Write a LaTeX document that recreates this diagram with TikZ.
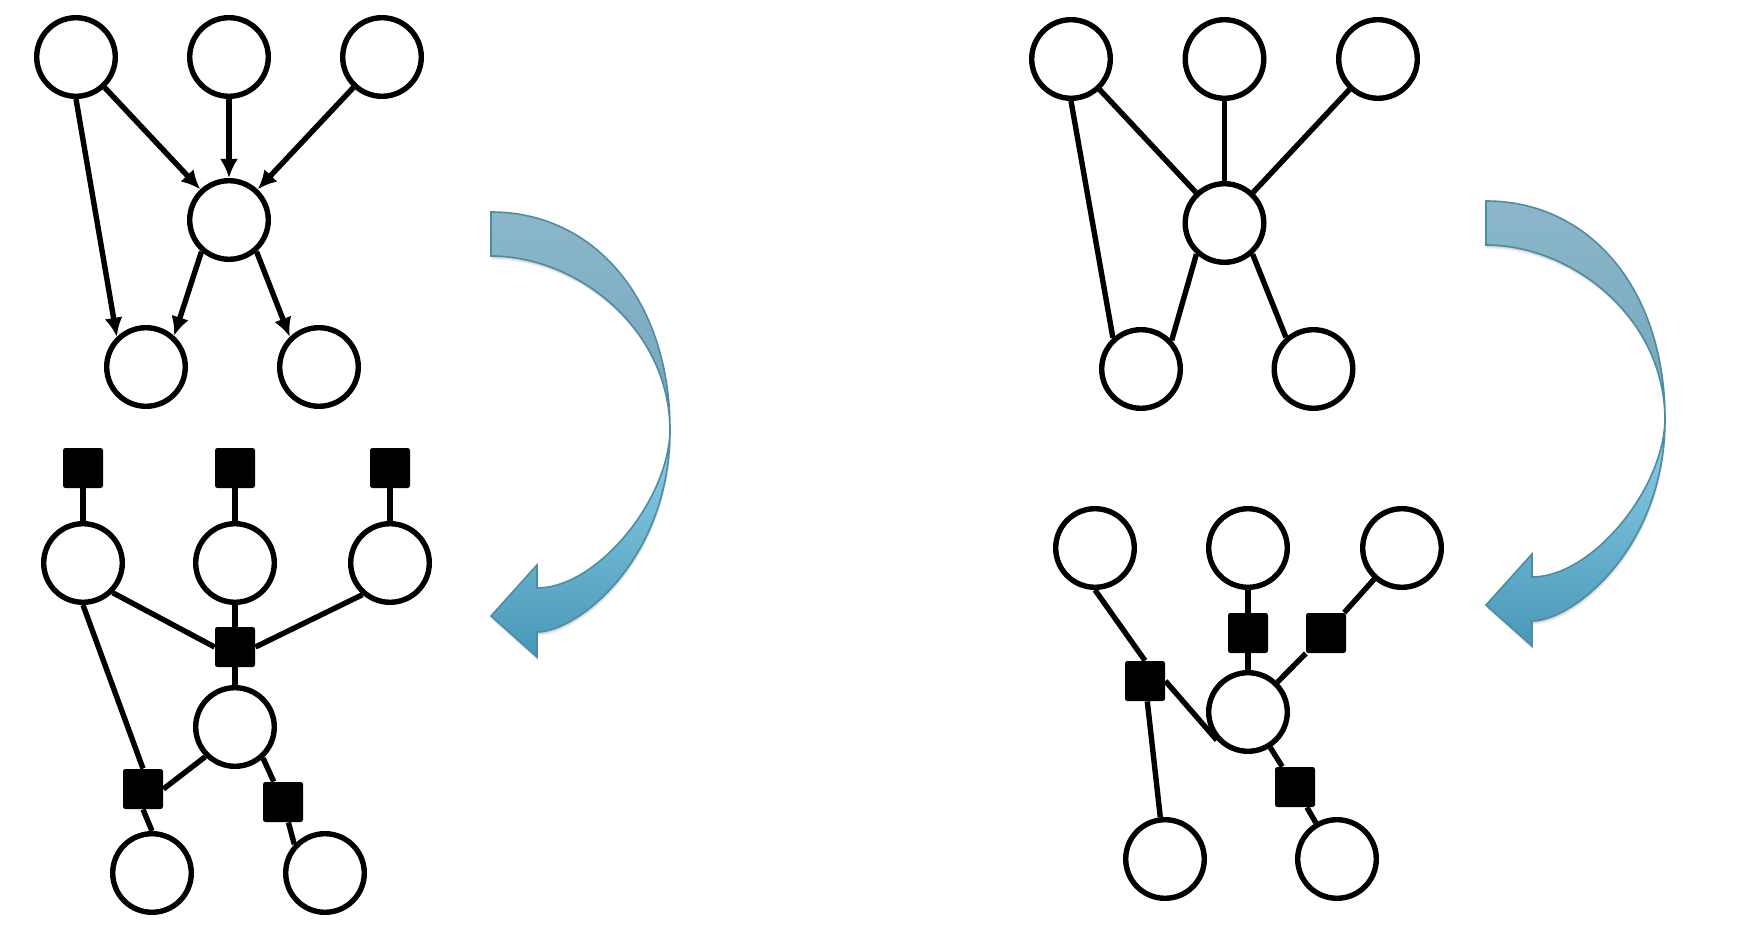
\documentclass[tikz,border=0pt]{standalone}
\usetikzlibrary{positioning,arrows.meta}
\definecolor{bandline}{HTML}{4E8CA3}
\definecolor{backtop}{HTML}{8CB7CA}
\definecolor{backbot}{HTML}{74A5BA}
\definecolor{fronttop}{HTML}{8FD1E8}
\definecolor{frontbot}{HTML}{4897B8}
\newcommand\backband{(0,0) .. controls (105,0) and (179,90) .. (179,218)
    .. controls (178,115) and (85,44) .. (0,44) -- cycle}
\newcommand\frontband{(179,218) .. controls (179,348) and (86,420) .. (46,420)
    -- (46,445) -- (0,404) -- (46,353) -- (46,376)
    .. controls (106,376) and (178,288) .. (179,218) -- cycle}
\tikzset{var/.style={circle,draw=black,line width=2.7pt,fill=white,minimum size=39.3pt,inner sep=0pt}}
\tikzset{fac/.style={rectangle,fill=black,rounded corners=1.2pt,minimum size=20pt,inner sep=0pt}}
\tikzset{link/.style={line width=2.7pt}}
\tikzset{dep/.style={link,-{Latex[length=9.5pt,width=9pt]}}}
\tikzset{bendarrow/.pic={
  \foreach \s in {1,2,3}
    \fill[black,opacity=0.07,shift={(0.3*\s,1.2*\s)}] \backband \frontband;
  \draw[line width=0.8pt,draw=bandline,top color=backtop,bottom color=backbot] \backband;
  \draw[line width=0.8pt,draw=bandline,top color=fronttop,bottom color=frontbot] \frontband;
}}

\begin{document}
\begin{tikzpicture}[x=0.5pt,y=-0.5pt,on grid]
  \path[use as bounding box,fill=white] (0,0) rectangle (1752,952);

  % directed graph
  \node[var] (a1) at (76,57) {};
  \node[var] (a2) [right=76.5pt of a1] {};
  \node[var] (a3) [right=76.5pt of a2] {};
  \node[var] (a4) [below=81.5pt of a2] {};
  \node[var] (a5) [below left=73.5pt and 41.5pt of a4] {};
  \node[var] (a6) [below right=73.5pt and 45pt of a4] {};
  \draw[dep] (a1) -- (a4);
  \draw[dep] (a2) -- (a4);
  \draw[dep] (a3) -- (a4);
  \draw[dep] (a1.south) -- (a5.134);
  \draw[dep] (a4.-131) -- (a5.48);
  \draw[dep] (a4.-49) -- (a6.134);

  % its factor graph
  \node[var] (c1) at (83,563) {};
  \node[var] (c2) [right=76pt of c1] {};
  \node[var] (c3) [right=77.5pt of c2] {};
  \node[fac] (t1) [above=47.5pt of c1] {};
  \node[fac] (t2) [above=47.5pt of c2] {};
  \node[fac] (t3) [above=47.5pt of c3] {};
  \node[fac] (fm) [below=42pt of c2] {};
  \node[var] (c4) [below=82pt of c2] {};
  \node[fac] (fl) [below left=31pt and 46pt of c4] {};
  \node[fac] (fr) [below right=37.5pt and 24pt of c4] {};
  \node[var] (c5) [below left=73pt and 41.5pt of c4] {};
  \node[var] (c6) [below right=73pt and 45pt of c4] {};
  \draw[link] (t1) -- (c1);
  \draw[link] (t2) -- (c2);
  \draw[link] (t3) -- (c3);
  \draw[link] (c1.-45) -- (fm.west);
  \draw[link] (c2) -- (fm);
  \draw[link] (c3.-131) -- (fm.east);
  \draw[link] (fm) -- (c4);
  \draw[link] (c1.south) -- (fl.north);
  \draw[link] (fl.south) -- (c5.north);
  \draw[link] (c4.-135) -- (fl.east);
  \draw[link] (c4.-48) -- (fr);
  \draw[link] (fr) -- (c6.137);

  % undirected graph
  \node[var] (b1) at (1071,59) {};
  \node[var] (b2) [right=76.75pt of b1] {};
  \node[var] (b3) [right=76.75pt of b2] {};
  \node[var] (b4) [below=82pt of b2] {};
  \node[var] (b5) [below left=73pt and 41.75pt of b4] {};
  \node[var] (b6) [below right=73pt and 44.5pt of b4] {};
  \draw[link] (b1) -- (b4);
  \draw[link] (b2) -- (b4);
  \draw[link] (b3) -- (b4);
  \draw[link] (b1.south) -- (b5.132);
  \draw[link] (b4.-132) -- (b5.43);
  \draw[link] (b4.-48) -- (b6.131);

  % its factor graph
  \node[var] (d1) at (1095,548) {};
  \node[var] (d2) [right=76.5pt of d1] {};
  \node[var] (d3) [right=77pt of d2] {};
  \node[var] (d4) [below=82pt of d2] {};
  \node[var] (d5) [below left=73.5pt and 41.5pt of d4] {};
  \node[var] (d6) [below right=73.5pt and 44.5pt of d4] {};
  \node[fac] (fa) [above left=15.5pt and 51.5pt of d4] {};
  \node[fac] (fb) [below=42.5pt of d2] {};
  \node[fac] (fc) [above right=39.5pt and 39pt of d4] {};
  \node[fac] (fd) [below right=37.5pt and 23.5pt of d4] {};
  \draw[link] (d1.south) -- (fa.north);
  \draw[link] (fa) -- (d5);
  \draw[link] (fa.east) -- (d4.222);
  \draw[link] (d2) -- (fb) -- (d4);
  \draw[link] (d3) -- (fc) -- (d4);
  \draw[link] (d4) -- (fd) -- (d6);

  \pic at (491,212) {bendarrow};
  \pic at (1486,201) {bendarrow};
\end{tikzpicture}
\end{document}
